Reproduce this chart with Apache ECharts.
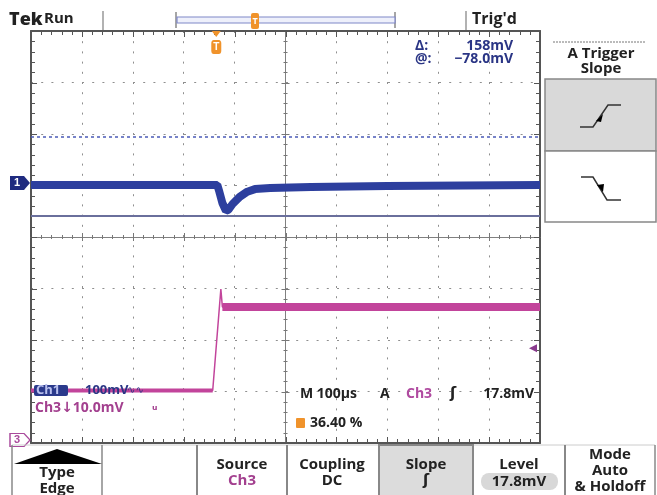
<!DOCTYPE html>
<html>
<head>
<meta charset="utf-8">
<script src="https://cdn.jsdelivr.net/npm/echarts@6/dist/echarts.min.js"></script>
<style>
  html, body { margin: 0; background: #fff; }
  #chart { width: 657px; height: 495px; }
</style>
</head>
<body>
<div id="chart"></div>
<script>
// horizontal: time in µs (M 100µs/div, 10 div); vertical: screen divisions, 0 = bottom edge
const ch1Time = [0, 100, 200, 300, 366, 370, 376, 383, 388, 396, 410, 425, 440, 470, 550, 700, 850, 1000];
const ch1Mv   = [-4, -4, -4, -4, -4, -17, -39, -54, -52, -41, -27, -17, -12, -10, -8, -6, -5, -4];
const ch3Time = [0, 357, 373, 376, 1000];
const ch3Mv   = [9.6, 9.6, 29.3, 25.8, 25.8];
const cursorMv = [89, -64];        // upper / lower cursor on Ch1
const trigLevelMv = 17.8;
const trigTime = 364;              // 36.40 % of record

const ch1Scale = 100, ch1Pos = 5.05;  // mV/div, ground position in div
const ch3Scale = 10,  ch3Pos = 0.06;

const ch1Data = ch1Time.map((t, i) => [t, ch1Pos + ch1Mv[i] / ch1Scale]);
const ch3Data = ch3Time.map((t, i) => [t, ch3Pos + ch3Mv[i] / ch3Scale]);
const ch3Low = ch3Data.filter((d, i) => ch3Time[i] <= 357);
const ch3High = ch3Data.filter((d, i) => ch3Time[i] >= 376);

const FONT = '"Open Sans", "DejaVu Sans", sans-serif';

function txt(x, y, text, o) {
  o = o || {};
  return {
    type: 'text', x: x, y: y, z: 100,
    style: {
      text: text,
      font: (o.w || 'bold') + ' ' + (o.s || 14) + 'px ' + FONT,
      fill: o.c || '#222',
      align: o.a || 'left',
      verticalAlign: 'middle'
    }
  };
}
function rect(x, y, w, h, fill, stroke, lw, r) {
  return { type: 'rect', z: 90, shape: { x: x, y: y, width: w, height: h, r: r || 0 },
           style: { fill: fill || 'none', stroke: stroke || 'none', lineWidth: lw || 1 } };
}
function line(x1, y1, x2, y2, c, lw, dash, z) {
  return { type: 'line', z: z || 90, shape: { x1: x1, y1: y1, x2: x2, y2: y2 },
           style: { stroke: c, lineWidth: lw || 1, lineDash: dash || null } };
}

// graticule edges and centre lines are axes placed with onZero
function edgeAxis(pos, min, max, interval, zeroIdx, border) {
  return {
    type: 'value', position: pos, min: min, max: max, interval: interval,
    axisLine: { show: true, onZero: true, onZeroAxisIndex: zeroIdx,
                lineStyle: { color: border ? '#555' : '#808080', width: border ? 2 : 1 } },
    axisTick: { show: false }, minorTick: { show: false },
    axisLabel: { show: false },
    splitLine: { show: false }
  };
}
const gridLines = { show: true, lineStyle: { color: '#8f8f8f', width: 1, type: [2, 8.2] } };

const xMain = edgeAxis('bottom', 0, 1000, 100, 0, true);
xMain.splitLine = gridLines;
const yMain = edgeAxis('left', 0, 8, 1, 0, true);
yMain.splitLine = gridLines;

const decor = [
  // top status bar
  txt(9, 20, 'Tek', { s: 18, w: '800' }),
  txt(44, 19, 'Run', { s: 15 }),
  line(103, 11, 103, 30, '#999', 1.5),
  line(176, 12, 176, 28, '#888', 1.5),
  line(395, 12, 395, 28, '#888', 1.5),
  rect(177, 17, 218, 6, '#eef0fb', '#7f87c8', 1.2),
  rect(251, 13, 8, 16, '#f0932b', null, 1, 2),
  txt(255, 21, 'T', { s: 9, c: '#fff', a: 'center' }),
  line(466, 11, 466, 30, '#999', 1.5),
  txt(472, 19, "Trig'd", { s: 16 }),
  // cursor readout
  txt(415, 46, 'Δ:', { s: 14, c: '#2a3585' }),
  txt(513, 46, '158mV', { s: 14, c: '#2a3585', a: 'right' }),
  txt(415, 59, '@:', { s: 14, c: '#2a3585' }),
  txt(513, 59, '−78.0mV', { s: 14, c: '#2a3585', a: 'right' }),
  // right side menu
  line(553, 42, 645, 42, '#777', 1, [2, 1]),
  txt(601, 54, 'A Trigger', { s: 15, a: 'center' }),
  txt(601, 69, 'Slope', { s: 15, a: 'center' }),
  rect(545, 79, 111, 72, '#d9d9d9', '#888', 1.5),
  rect(545, 151, 111, 71, '#fff', '#888', 1.5),
  { type: 'polyline', z: 95, shape: { points: [[580, 127], [593, 127], [608, 105], [621, 105]] },
    style: { stroke: '#333', lineWidth: 1.5, fill: 'none' } },
  { type: 'polygon', z: 96, shape: { points: [[596, 121], [603, 114], [601, 122]] }, style: { fill: '#000' } },
  { type: 'polyline', z: 95, shape: { points: [[581, 177], [593, 177], [607, 200], [621, 200]] },
    style: { stroke: '#333', lineWidth: 1.5, fill: 'none' } },
  { type: 'polygon', z: 96, shape: { points: [[597, 185], [603, 192], [604, 184]] }, style: { fill: '#000' } },
  // channel readouts
  rect(34, 385, 34, 11, '#2b3a8c', null, 1, 2),
  txt(36, 390, 'Ch1', { s: 13, c: '#b9c0ee' }),
  txt(85, 390, '100mV', { s: 13, c: '#2a3585' }),
  txt(127, 390, '∿∿', { s: 10, c: '#2a3585', w: 'normal' }),
  txt(35, 408, 'Ch3↓10.0mV', { s: 14, c: '#a3408f' }),
  txt(152, 407, 'ᵤ', { s: 12, c: '#a3408f' }),
  txt(300, 394, 'M 100µs', { s: 14 }),
  txt(380, 394, 'A', { s: 14 }),
  txt(406, 394, 'Ch3', { s: 14, c: '#b04aa0' }),
  txt(450, 394, 'ʃ', { s: 15 }),
  txt(534, 394, '17.8mV', { s: 14, a: 'right' }),
  rect(296, 418, 9, 10, '#f0932b', null, 1, 1),
  txt(310, 423, '36.40 %', { s: 14 }),
  // bottom menu
  line(12, 445, 655, 445, '#ccc', 1),
  line(12, 445, 12, 495, '#888', 1.5),
  line(102, 445, 102, 495, '#888', 1.5),
  { type: 'polygon', z: 95, shape: { points: [[14, 464], [57, 449], [102, 464]] }, style: { fill: '#000' } },
  txt(57, 473, 'Type', { s: 15, a: 'center' }),
  txt(57, 489, 'Edge', { s: 15, a: 'center' }),
  line(197, 445, 197, 495, '#888', 2),
  txt(242, 465, 'Source', { s: 15, a: 'center' }),
  txt(242, 481, 'Ch3', { s: 15, a: 'center', c: '#a3408f' }),
  line(287, 445, 287, 495, '#888', 2),
  txt(332, 465, 'Coupling', { s: 15, a: 'center' }),
  txt(332, 481, 'DC', { s: 15, a: 'center' }),
  rect(379, 445, 94, 52, '#dcdcdc', '#888', 2),
  txt(426, 465, 'Slope', { s: 15, a: 'center' }),
  txt(426, 481, 'ʃ', { s: 15, a: 'center' }),
  txt(519, 465, 'Level', { s: 15, a: 'center' }),
  rect(481, 473, 77, 17, '#d8d8d8', null, 1, 8),
  txt(519, 482, '17.8mV', { s: 15, a: 'center' }),
  line(565, 445, 565, 495, '#888', 2),
  txt(610, 455, 'Mode', { s: 15, a: 'center' }),
  txt(610, 471, 'Auto', { s: 15, a: 'center' }),
  txt(610, 487, '& Holdoff', { s: 15, a: 'center' }),
  line(655, 445, 655, 495, '#888', 1.5)
];

const chart = echarts.init(document.getElementById('chart'));
chart.setOption({
  animation: false,
  backgroundColor: '#fff',
  grid: { left: 31, top: 31, width: 509, height: 412 },
  xAxis: [
    xMain,                                          // bottom edge
    edgeAxis('top', -10, 0, 1, 1, true),            // top edge (yAxis 1 has 0 at top)
    edgeAxis('bottom', -5, 5, 1, 2, false)          // horizontal centre line
  ],
  yAxis: [
    yMain,                                          // left edge
    edgeAxis('right', -8, 0, 1, 1, true),           // right edge
    edgeAxis('left', -4, 4, 1, 2, false)            // vertical centre line
  ],
  series: [
    {
      name: 'Ch1', type: 'line', data: ch1Data, symbol: 'none', z: 5,
      lineStyle: { color: '#2d3f9e', width: 8 },
      markLine: {
        silent: true, symbol: 'none', label: { show: false },
        data: [
          { yAxis: ch1Pos + cursorMv[0] / ch1Scale, lineStyle: { color: '#4b5bb8', width: 1.5, type: [3, 3] } },
          { yAxis: ch1Pos + cursorMv[1] / ch1Scale, lineStyle: { color: '#6a6f9c', width: 2, type: 'solid' } }
        ]
      },
      markPoint: {
        silent: true,
        data: [{
          coord: [0, ch1Pos], symbol: 'path://M0,0 L14,0 L20,7 L14,14 L0,14 Z',
          symbolSize: [20, 14], symbolOffset: [-11, 0],
          itemStyle: { color: '#1f2b80' },
          label: { show: true, formatter: '1', color: '#fff', fontWeight: 'bold', fontSize: 11, offset: [-3, 0] }
        }, {
          coord: [trigTime, 8], symbol: 'roundRect', symbolSize: [10, 14], symbolOffset: [0, 16],
          itemStyle: { color: '#f0932b' },
          label: { show: true, formatter: 'T', color: '#fff', fontWeight: 'bold', fontSize: 10 }
        }, {
          coord: [trigTime, 8], symbol: 'triangle', symbolSize: [9, 6], symbolRotate: 180, symbolOffset: [0, 3],
          itemStyle: { color: '#f0932b' }, label: { show: false }
        }]
      }
    },
    {
      name: 'Ch3', type: 'line', data: ch3Data, symbol: 'none', z: 4,
      lineStyle: { color: '#c2449b', width: 1.5 },
      markPoint: {
        silent: true,
        data: [{
          coord: [0, ch3Pos], symbol: 'path://M0,0 L14,0 L20,7 L14,14 L0,14 Z',
          symbolSize: [20, 13], symbolOffset: [-11, 0],
          itemStyle: { color: '#fff', borderColor: '#a94a9c', borderWidth: 1.2 },
          label: { show: true, formatter: '3', color: '#a94a9c', fontWeight: 'bold', fontSize: 11, offset: [-3, 0] }
        }, {
          coord: [1000, ch3Pos + trigLevelMv / ch3Scale], symbol: 'triangle', symbolSize: [8, 8],
          symbolRotate: 90, symbolOffset: [-7, 0],
          itemStyle: { color: '#8a3b8e' }, label: { show: false }
        }]
      }
    },
    {
      name: 'Ch3 low', type: 'line', data: ch3Low, symbol: 'none', z: 4,
      lineStyle: { color: '#c2449b', width: 4 }
    },
    {
      name: 'Ch3 high', type: 'line', data: ch3High, symbol: 'none', z: 4,
      lineStyle: { color: '#c2449b', width: 8 }
    }
  ]
});

// graticule tick marks (5 per division) placed through the main axes
const X = v => chart.convertToPixel({ xAxisIndex: 0 }, v);
const Y = v => chart.convertToPixel({ yAxisIndex: 0 }, v);
const xl = X(0), xr = X(1000), xc = X(500), yb = Y(0), yt = Y(8), yc = Y(4);
const ticks = [];
for (let i = 1; i < 50; i++) {
  const px = Math.round(X(i * 20)) + 0.5, len = i % 5 === 0 ? 5 : 3;
  ticks.push(line(px, yb, px, yb - len - 1, '#555', 1, null, 1));
  ticks.push(line(px, yt, px, yt + len + 1, '#555', 1, null, 1));
  ticks.push(line(px, yc - len + 1, px, yc + len - 1, '#777', 1, null, 1));
}
for (let j = 1; j < 40; j++) {
  const py = Math.round(Y(j * 0.2)) + 0.5, len = j % 5 === 0 ? 5 : 3;
  ticks.push(line(xl, py, xl + len + 1, py, '#555', 1, null, 1));
  ticks.push(line(xr, py, xr - len - 1, py, '#555', 1, null, 1));
  ticks.push(line(xc - len + 1, py, xc + len - 1, py, '#777', 1, null, 1));
}
chart.setOption({ graphic: { elements: decor.concat(ticks) } });
</script>
</body>
</html>
